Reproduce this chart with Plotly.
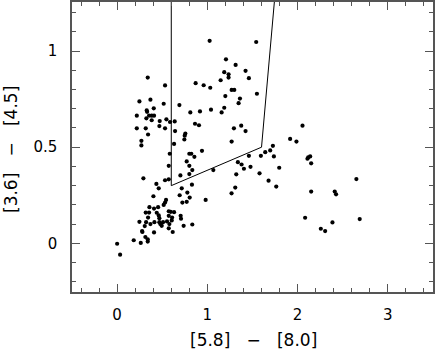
import plotly.graph_objects as go

# [5.8]-[8.0] colour
x_vals = [1.025, 1.541, 1.206, 1.313, 1.423, 1.187, 1.235, 1.235, 1.460, 1.147,
          0.339, 0.870, 0.959, 0.531, 1.032, 1.269, 1.298, 1.549, 1.361, 0.247,
          0.369, 1.346, 0.516, 0.690, 0.406, 0.328, 0.332, 1.187, 1.040, 0.918,
          0.811, 0.218, 0.354, 0.383, 0.409, 1.158, 0.324, 0.383, 0.472, 0.546,
          0.586, 0.638, 0.468, 0.531, 0.218, 0.317, 0.863, 0.907, 0.642, 0.343,
          1.294, 1.375, 1.423, 0.756, 0.749, 0.745, 0.269, 0.269, 1.269, 0.631,
          0.940, 0.583, 0.800, 0.822, 0.856, 0.771, 0.800, 0.572, 0.833, 0.800,
          1.066, 0.701, 0.291, 0.531, 0.572, 0.829, 0.435, 0.461, 0.716, 0.778,
          0.804, 0.693, 0.771, 0.723, 0.981, 0.402, 0.542, 0.531, 0.516, 0.358,
          0.409, 0.454, 0.317, 0.354, 0.439, 0.572, 0.594, 0.631, 0.343, 0.461,
          0.468, 0.572, 0.609, 0.704, 0.708, 0.247, 0.321, 0.413, 0.468, 0.509,
          0.553, 0.605, 0.306, 0.369, 0.479, 0.494, 0.579, 0.737, 0.833, 0.572,
          0.277, 0.280, 0.409, 0.616, 0.313, 0.339, 0.339, 0.184, 0.262, 0.000,
          0.033, 2.054, 1.917, 1.987, 1.726, 1.696, 1.641, 1.593, 1.737, 1.460,
          2.139, 2.117, 2.109, 2.150, 1.796, 1.478, 1.338, 1.379, 1.405, 1.320,
          1.578, 1.678, 1.763, 1.309, 1.268, 2.150, 2.411, 2.426, 2.651, 2.083,
          2.386, 2.688, 2.257, 2.305, 1.199]

# [3.6]-[4.5] colour
y_vals = [1.053, 1.047, 0.957, 0.928, 0.897, 0.890, 0.879, 0.862, 0.859, 0.848,
          0.862, 0.833, 0.822, 0.821, 0.809, 0.798, 0.798, 0.778, 0.753, 0.738,
          0.747, 0.729, 0.726, 0.719, 0.702, 0.691, 0.684, 0.705, 0.695, 0.686,
          0.681, 0.664, 0.664, 0.664, 0.664, 0.681, 0.650, 0.640, 0.636, 0.645,
          0.631, 0.634, 0.610, 0.598, 0.598, 0.598, 0.622, 0.614, 0.584, 0.566,
          0.598, 0.612, 0.584, 0.571, 0.560, 0.540, 0.533, 0.509, 0.529, 0.517,
          0.481, 0.466, 0.466, 0.466, 0.450, 0.426, 0.403, 0.403, 0.381, 0.360,
          0.381, 0.353, 0.338, 0.328, 0.333, 0.305, 0.309, 0.286, 0.286, 0.264,
          0.238, 0.250, 0.216, 0.212, 0.226, 0.245, 0.226, 0.212, 0.200, 0.188,
          0.181, 0.188, 0.160, 0.160, 0.159, 0.167, 0.164, 0.162, 0.134, 0.145,
          0.131, 0.143, 0.134, 0.143, 0.128, 0.112, 0.110, 0.110, 0.110, 0.110,
          0.114, 0.119, 0.090, 0.100, 0.100, 0.091, 0.100, 0.091, 0.098, 0.078,
          0.064, 0.059, 0.057, 0.059, 0.033, 0.021, 0.009, 0.016, 0.002, -0.002,
          -0.059, 0.612, 0.543, 0.529, 0.507, 0.483, 0.474, 0.455, 0.452, 0.455,
          0.452, 0.447, 0.440, 0.416, 0.393, 0.398, 0.422, 0.410, 0.388, 0.359,
          0.364, 0.326, 0.295, 0.290, 0.260, 0.269, 0.269, 0.255, 0.334, 0.133,
          0.109, 0.126, 0.076, 0.064, 0.766]

# selection wedge boundary
wedge_x = [0.6, 0.6, 1.6, 1.76]
wedge_y = [1.4, 0.3, 0.5, 1.35]

x_ticks = [0, 1, 2, 3]
x_ticklabels = ["0", "1", "2", "3"]
y_ticks = [0, 0.5, 1]
y_ticklabels = ["0", "0.5", "1"]

font_family = "DejaVu Sans"
frame_col = "#555555"

fig = go.Figure()
fig.add_trace(go.Scatter(x=wedge_x, y=wedge_y, mode="lines",
                         line=dict(color="black", width=1), hoverinfo="skip"))
fig.add_trace(go.Scatter(x=x_vals, y=y_vals, mode="markers",
                         marker=dict(color="black", size=4.2, line=dict(width=0))))

axis_common = dict(showgrid=False, zeroline=False, showline=True, linecolor=frame_col,
                   linewidth=1.5, mirror="ticks", ticks="inside", ticklen=8,
                   tickwidth=1.2, tickcolor=frame_col,
                   tickfont=dict(family=font_family, size=15, color="black"))

fig.update_xaxes(range=[-0.5, 3.5], tickvals=x_ticks, ticktext=x_ticklabels,
                 minor=dict(dtick=0.2, tick0=0, ticks="inside", ticklen=4,
                            tickwidth=1, tickcolor=frame_col),
                 ticklabelstandoff=8, **axis_common)
fig.update_yaxes(range=[-0.253, 1.255], tickvals=y_ticks, ticktext=y_ticklabels,
                 minor=dict(dtick=0.1, tick0=0, ticks="inside", ticklen=4,
                            tickwidth=1, tickcolor=frame_col),
                 ticklabelstandoff=10, **axis_common)

sp = "\u00a0\u00a0\u00a0"
fig.update_layout(
    width=436, height=349,
    margin=dict(l=72, r=3, t=0, b=57),
    plot_bgcolor="white", paper_bgcolor="white",
    showlegend=False,
    annotations=[
        dict(text="[5.8]" + sp + "\u2212" + sp + "[8.0]", xref="paper", yref="paper",
             x=0.5 + (253 - 252.5) / 361, y=-(340 - 292) / 292, xanchor="center",
             yanchor="middle", showarrow=False,
             font=dict(family=font_family, size=17, color="black")),
        dict(text="[3.6]" + sp + "\u2212" + sp + "[4.5]", xref="paper", yref="paper",
             x=-(72 - 11) / 361, y=(292 - 149) / 292, xanchor="center",
             yanchor="middle", textangle=-90, showarrow=False,
             font=dict(family=font_family, size=17, color="black")),
    ],
)

fig.write_html("out.html", config={"displayModeBar": False},
               post_script="document.body.style.margin='0';document.body.style.overflow='hidden';")
